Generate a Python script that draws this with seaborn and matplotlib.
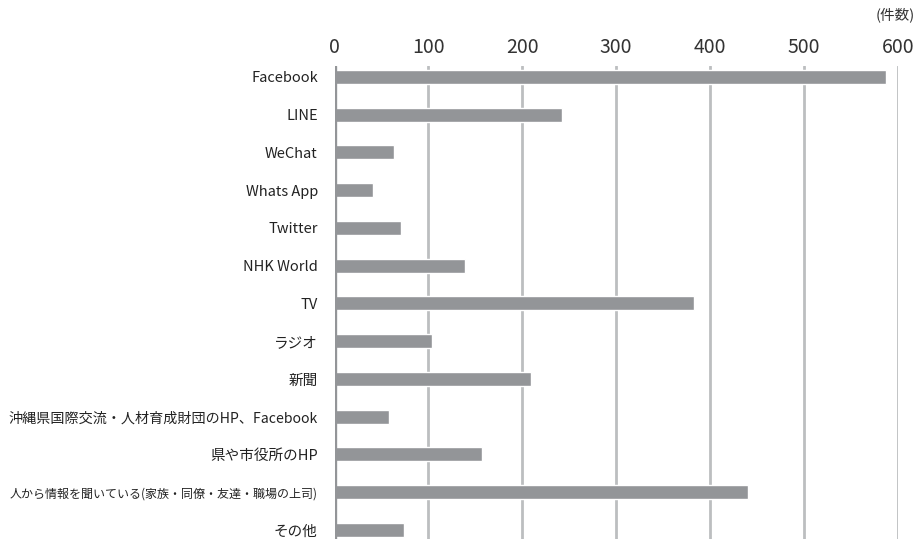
import matplotlib.pyplot as plt
import pandas as pd
import seaborn as sns

# data
media = [
    "Facebook", "LINE", "WeChat", "Whats App", "Twitter", "NHK World", "TV",
    "ラジオ", "新聞", "沖縄県国際交流・人材育成財団のHP、Facebook", "県や市役所のHP",
    "人から情報を聞いている(家族・同僚・友達・職場の上司)", "その他",
]
counts = [588, 242, 63, 41, 71, 139, 383, 104, 209, 58, 157, 441, 74]
xticks = [0, 100, 200, 300, 400, 500, 600]
unit_label = "(件数)"

df = pd.DataFrame({"media": media, "count": counts})

sns.set_style("white")
plt.rcParams["font.family"] = ["Noto Sans CJK JP", "DejaVu Sans"]

bar_color = "#939598"
grid_color = "#bcbec0"

# Figure,
fig = plt.figure(figsize=(9.17, 5.39), dpi=100, facecolor="white")
ax = fig.add_axes([0.3648, 0.0, 0.6142, 0.8776])

sns.barplot(data=df, x="count", y="media", orient="h", color=bar_color,
            width=0.37, saturation=1, ax=ax, zorder=3)

ax.set_xlim(0, 600)
ax.set_ylim(12.24, -0.29)
ax.set_xticks(xticks)
ax.set_xlabel("")
ax.set_ylabel("")

# gridlines, zero line darker
for x in xticks[1:]:
    ax.axvline(x, color=grid_color, linewidth=2.0, zorder=1)
ax.axvline(0, color=bar_color, linewidth=2.4, zorder=4)

ax.xaxis.tick_top()
ax.tick_params(axis="x", length=0, pad=6, labelsize=14, colors="#333333")
ax.tick_params(axis="y", length=0, pad=12, labelsize=10.5, colors="#222222")

for side in ["top", "right", "bottom", "left"]:
    ax.spines[side].set_visible(False)

fig.text(0.998, 0.972, unit_label, ha="right", va="center", fontsize=10.5, color="#333333")

# shrink long labels so they fit left of the axis
renderer = fig.canvas.get_renderer()
max_w = 310
for lab in ax.get_yticklabels():
    w = lab.get_window_extent(renderer).width
    if w > max_w:
        lab.set_fontsize(10.5 * max_w / w)

fig.savefig("out.png", dpi=100)
